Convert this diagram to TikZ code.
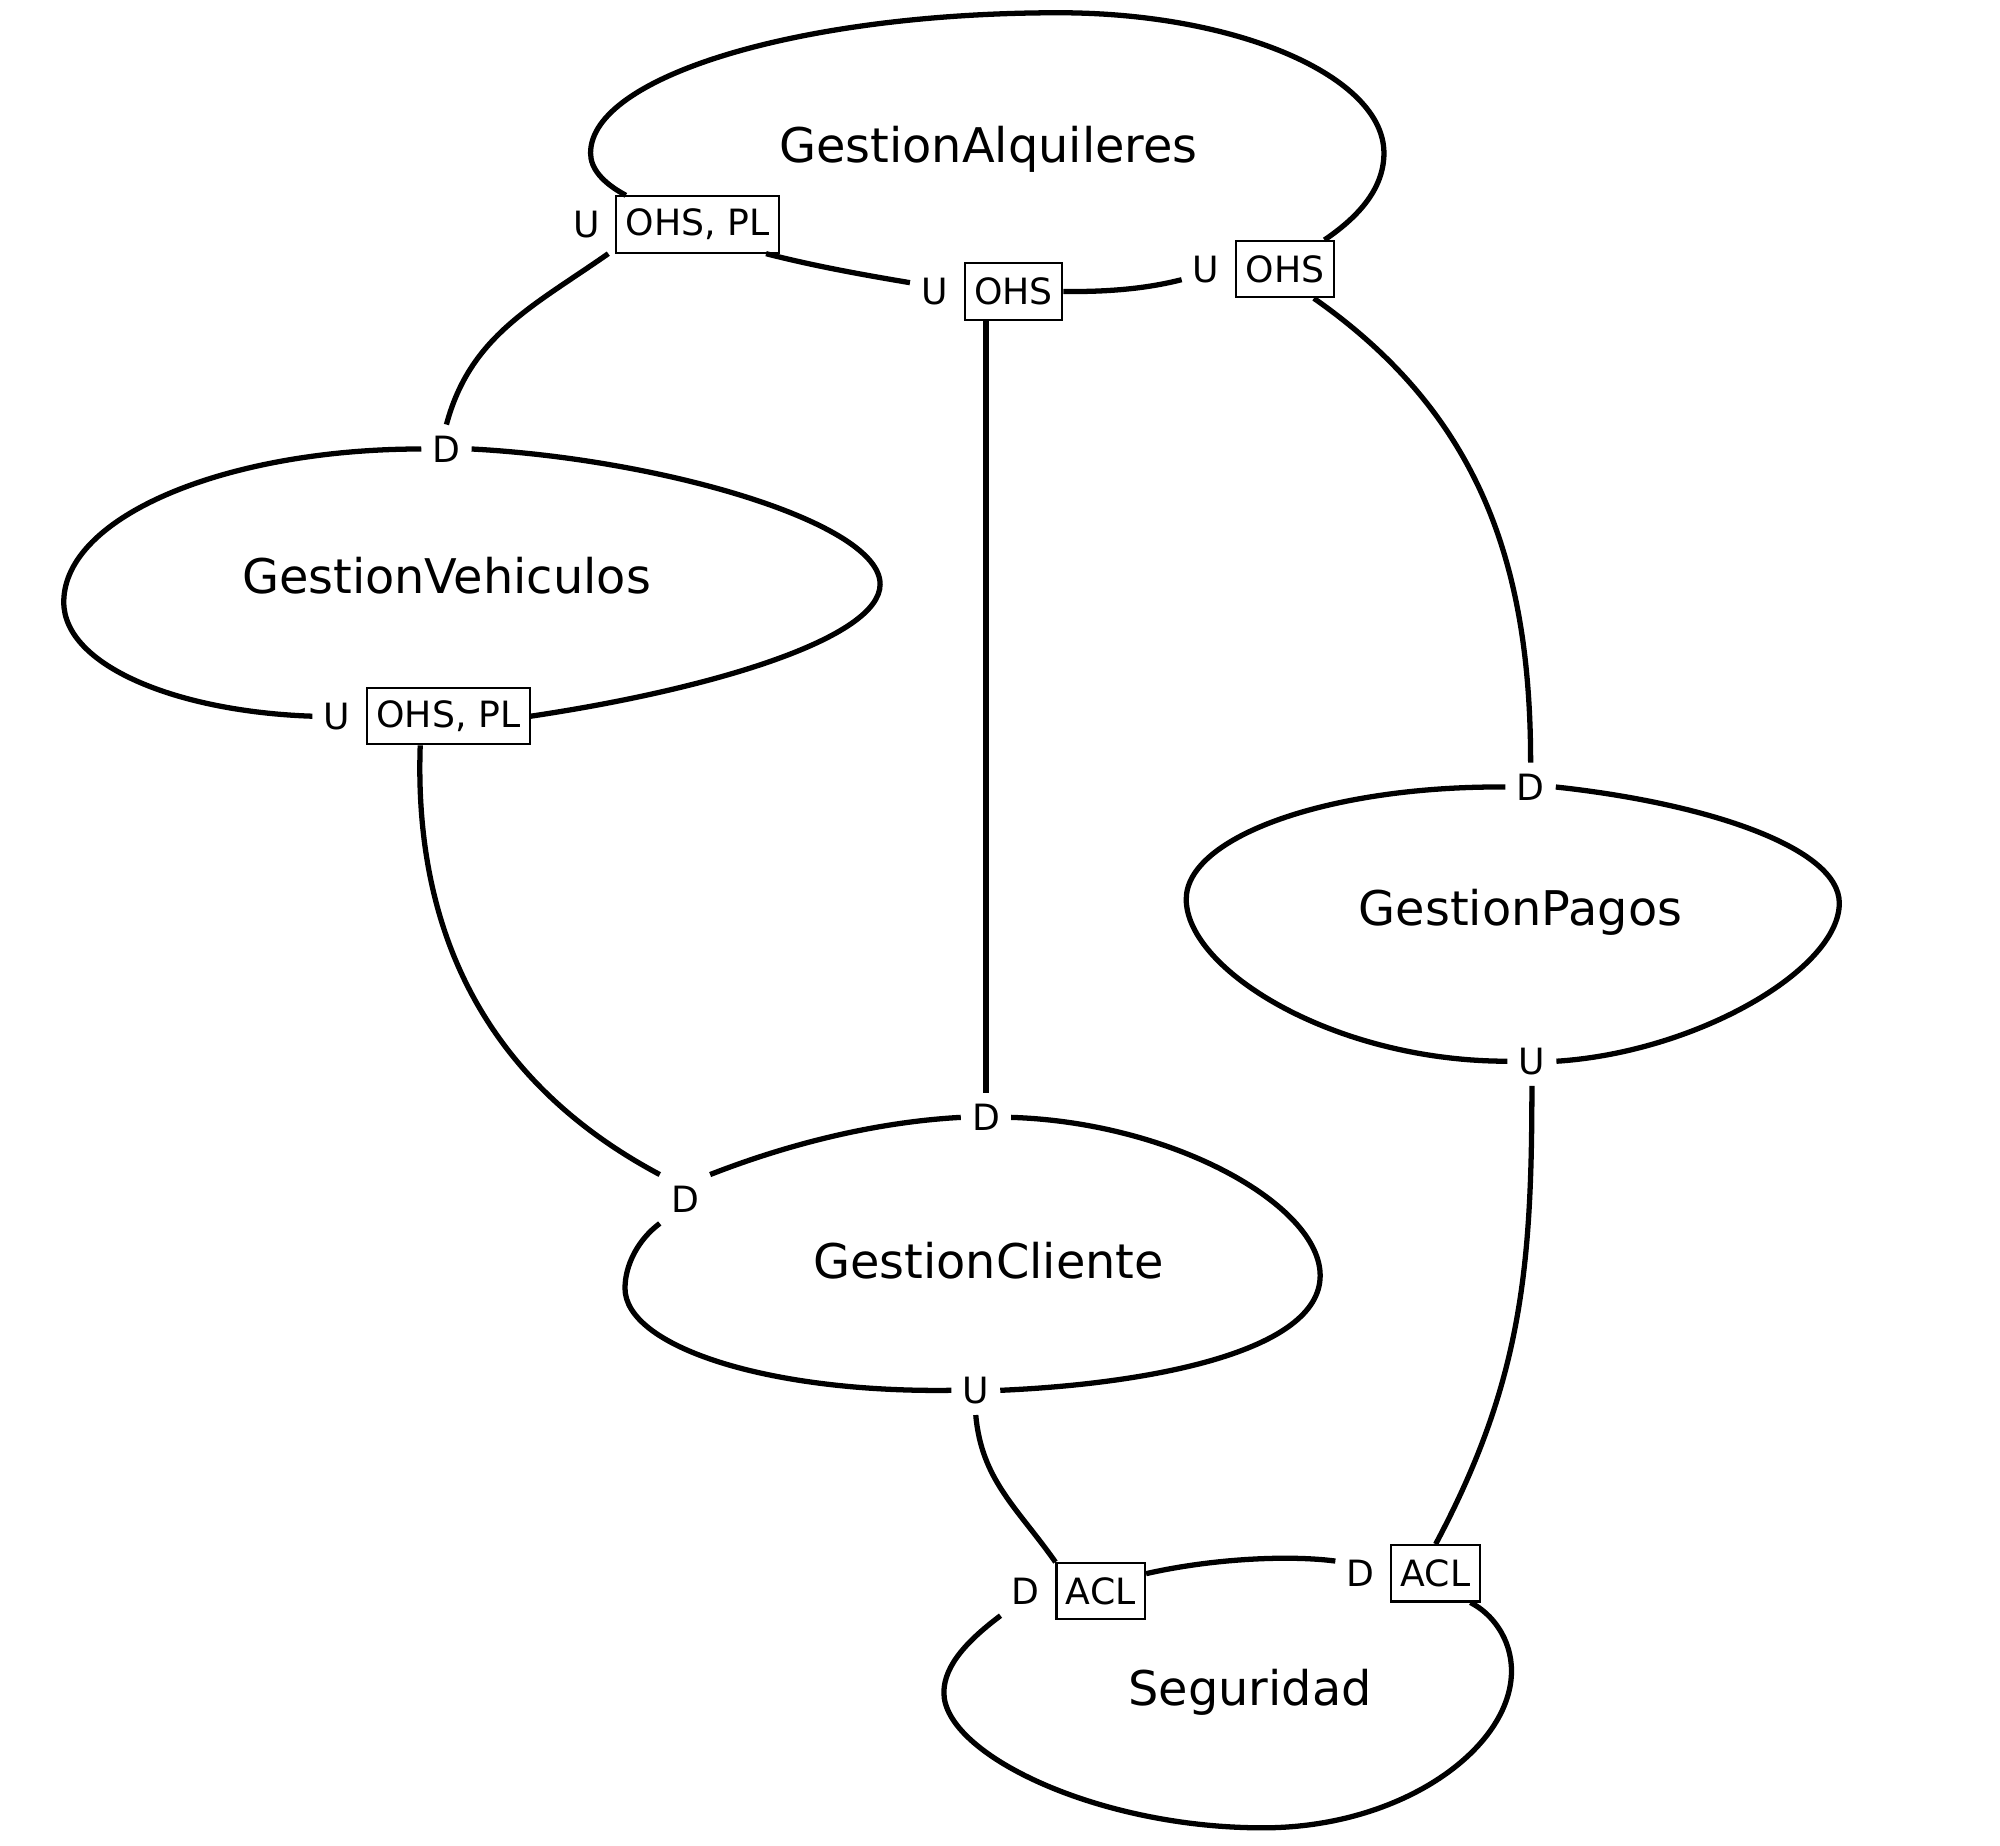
\documentclass[tikz,border=0pt]{standalone}
\usepackage{fontspec}
\setmainfont{DejaVu Sans}
\usetikzlibrary{positioning}

\tikzset{
  ctx/.style={font=\fontsize{13.6}{16}\selectfont},
  rel/.style={font=\fontsize{10.3}{12}\selectfont, inner sep=3pt},
  pbox/.style={draw, line width=0.6pt, font=\fontsize{10.3}{12}\selectfont,
    inner xsep=2.7pt, inner ysep=0pt, minimum height=16pt},
  edge/.style={line width=1.5pt},
}

\begin{document}
\begin{tikzpicture}[x=0.012755cm, y=0.012755cm]
        \useasboundingbox (0,0) rectangle (1568,-1447);

        % Context names
        \node[ctx] (alq) at (775,-117) {GestionAlquileres};
        \node[ctx] (veh) at (350,-451) {GestionVehiculos};
        \node[ctx] (pag) at (1192,-715) {GestionPagos};
        \node[ctx] (cli) at (775,-988) {GestionCliente};
        \node[ctx] (seg) at (980,-1327) {Seguridad};

        % Upstream ends on GestionAlquileres
        \node[pbox] (alq1) at (547,-176) {OHS, PL};
        \node[rel, left=1.3pt of alq1] (alq1u) {U};
        \node[pbox] (alq2) at (794.5,-228.5) {OHS};
        \node[rel, left=1.3pt of alq2] (alq2u) {U};
        \node[pbox] (alq3) at (1007.5,-211) {OHS};
        \node[rel, left=1.3pt of alq3] (alq3u) {U};

        % GestionVehiculos
        \node[rel] (vehd) at (350,-352) {D};
        \node[pbox] (veh1) at (351.5,-561.5) {OHS, PL};
        \node[rel, left=1.3pt of veh1] (veh1u) {U};

        % GestionPagos
        \node[rel] (pagd) at (1200,-617) {D};
        \node[rel] (pagu) at (1201,-832) {U};

        % GestionCliente
        \node[rel] (clid1) at (773,-876) {D};
        \node[rel] (clid2) at (537,-940) {D};
        \node[rel] (cliu) at (765,-1090) {U};

        % Seguridad
        \node[pbox] (seg1) at (863,-1247.5) {ACL};
        \node[rel, left=1.3pt of seg1] (seg1d) {D};
        \node[pbox] (seg2) at (1125.5,-1233.5) {ACL};
        \node[rel, left=1.3pt of seg2] (seg2d) {D};

        % Context outlines
        \draw[edge] ([xshift=3pt]alq1.north west) .. controls (472,-143) and (463,-132) .. (463,-120)
            .. controls (463,-60) and (628,-10) .. (830,-10)
            .. controls (970,-10) and (1085,-60) .. (1085,-120)
            .. controls (1085,-150) and (1062,-172) .. ([xshift=-3pt]alq3.north east);
        \draw[edge] ([xshift=-4pt]alq1.south east) .. controls (640,-209) and (680,-216) .. ([yshift=2.5pt]alq2u.west);
        \draw[edge] (alq2.east) .. controls (870,-229) and (900,-226) .. ([yshift=-3pt]alq3u.west);

        \draw[edge] (vehd.west) .. controls (177,-352) and (50,-405) .. (50,-472)
            .. controls (50,-522) and (139,-558) .. (veh1u.west);
        \draw[edge] (vehd.east) .. controls (520,-360) and (690,-410) .. (690,-458)
            .. controls (690,-500) and (560,-540) .. (veh1.east);

        \draw[edge] (pagd.west) .. controls (1042,-616) and (930,-656) .. (930,-705)
            .. controls (930,-760) and (1045,-832) .. (pagu.west);
        \draw[edge] (pagd.east) .. controls (1340,-630) and (1442,-665) .. (1442,-708)
            .. controls (1442,-760) and (1330,-825) .. (pagu.east);

        \draw[edge] (clid1.west) .. controls (680,-880) and (610,-900) .. (clid2.north east);
        \draw[edge] (clid2.south west) .. controls (500,-972) and (490,-992) .. (490,-1010)
            .. controls (490,-1055) and (600,-1092) .. (cliu.west);
        \draw[edge] (clid1.east) .. controls (920,-880) and (1035,-945) .. (1035,-1000)
            .. controls (1035,-1060) and (900,-1085) .. (cliu.east);

        \draw[edge] ([yshift=5pt]seg1.east) .. controls (950,-1222) and (1010,-1219) .. ([yshift=3.5pt]seg2d.west);
        \draw[edge] (seg1d.south west) .. controls (760,-1285) and (740,-1305) .. (740,-1327)
            .. controls (740,-1375) and (860,-1433) .. (990,-1433)
            .. controls (1100,-1433) and (1185,-1370) .. (1185,-1310)
            .. controls (1185,-1285) and (1170,-1265) .. ([xshift=-3pt]seg2.south east);

        % Relationships
        \draw[edge] ([xshift=-2pt]alq1.south west) to[out=215,in=75] (vehd.north);
        \draw[edge] (clid1.north |- alq2.south) -- (clid1.north);
        \draw[edge] ([xshift=-6pt]alq3.south east) to[out=-35,in=90] (pagd.north);
        \draw[edge] ([xshift=-8pt]veh1.south) to[out=-92,in=152] (clid2.north west);
        \draw[edge] (pagu.south) to[out=-90,in=62] (seg2.north);
        \draw[edge] (cliu.south) to[out=-85,in=125] (seg1.north west);
\end{tikzpicture}
\end{document}
